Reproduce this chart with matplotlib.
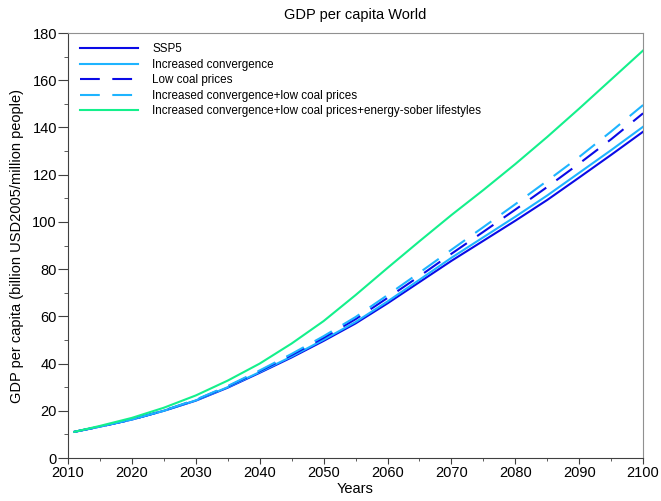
import matplotlib.pyplot as plt
from matplotlib.ticker import MultipleLocator

plt.rcParams['font.family'] = ['Liberation Sans', 'DejaVu Sans']

years = [2011, 2015, 2020, 2025, 2030, 2035, 2040, 2045, 2050, 2055,
         2060, 2065, 2070, 2075, 2080, 2085, 2090, 2095, 2100]

ssp5 = [11.1, 13.3, 16.3, 20, 24.3, 29.8, 36.1, 42.6, 49.6, 57,
        65.5, 74.5, 83.5, 92, 100.5, 109.3, 118.8, 128.4, 138.2]
inc_conv = [11.1, 13.3, 16.3, 20, 24.4, 30, 36.4, 43, 50.1, 57.6,
            66.3, 75.5, 84.8, 93.5, 102.2, 111.2, 120.8, 130.4, 140.3]
low_coal = [11.1, 13.3, 16.3, 20.1, 24.6, 30.3, 36.8, 43.6, 50.9, 58.8,
            67.8, 77, 86.5, 95.8, 105.2, 114.8, 124.7, 135, 146]
inc_low = [11.1, 13.3, 16.3, 20.1, 24.7, 30.5, 37.1, 44.1, 51.6, 59.7,
           69, 78.5, 88.2, 97.8, 107.5, 117.4, 127.5, 138.3, 149.5]
sober = [11.1, 13.6, 17, 21.3, 26.5, 32.8, 40, 48.5, 58, 69,
         80.5, 91.8, 102.9, 113.5, 124.5, 136, 148, 160.3, 172.6]

labels = ['SSP5',
          'Increased convergence',
          'Low coal prices',
          'Increased convergence+low coal prices',
          'Increased convergence+low coal prices+energy-sober lifestyles']

fig = plt.figure(figsize=(6.61, 5.01), dpi=100)
ax = fig.add_axes([0.1029, 0.0858, 0.870, 0.8483])

dash = (0, (9.5, 6))
ax.plot(years, ssp5, color='#0a0ae6', lw=1.5, label=labels[0])
ax.plot(years, inc_conv, color='#1eb4ff', lw=1.5, label=labels[1])
ax.plot(years, low_coal, color='#0a0ae6', lw=1.5, ls=dash, label=labels[2])
ax.plot(years, inc_low, color='#1eb4ff', lw=1.5, ls=dash, label=labels[3])
ax.plot(years, sober, color='#14f08c', lw=1.5, label=labels[4])

ax.set_xlim(2010, 2100)
ax.set_ylim(0, 180)
ax.xaxis.set_major_locator(MultipleLocator(10))
ax.xaxis.set_minor_locator(MultipleLocator(5))
ax.yaxis.set_major_locator(MultipleLocator(20))
ax.yaxis.set_minor_locator(MultipleLocator(10))
ax.tick_params(labelsize=10.5)
ax.tick_params(axis='y', which='major', length=7, pad=1)
ax.tick_params(axis='y', which='minor', length=3)
ax.tick_params(axis='x', which='major', length=4, pad=2)
ax.tick_params(axis='x', which='minor', length=2)
ax.tick_params(which='both', color='#404040')

for s in ['top', 'right']:
    ax.spines[s].set_color('#909090')
for s in ['left', 'bottom']:
    ax.spines[s].set_color('#404040')

ax.set_title('GDP per capita World', fontsize=10.5, pad=10)
ax.set_xlabel('Years', fontsize=10.5, labelpad=1)
ax.set_ylabel('GDP per capita (billion USD2005/million people)', fontsize=10.5, labelpad=6)

ax.legend(loc='upper left', frameon=False, fontsize=8.4, handlelength=5.0,
          handletextpad=1.2, labelspacing=0.3, borderpad=0, borderaxespad=0,
          bbox_to_anchor=(0.021, 0.976))

fig.savefig('out.png', dpi=100)
